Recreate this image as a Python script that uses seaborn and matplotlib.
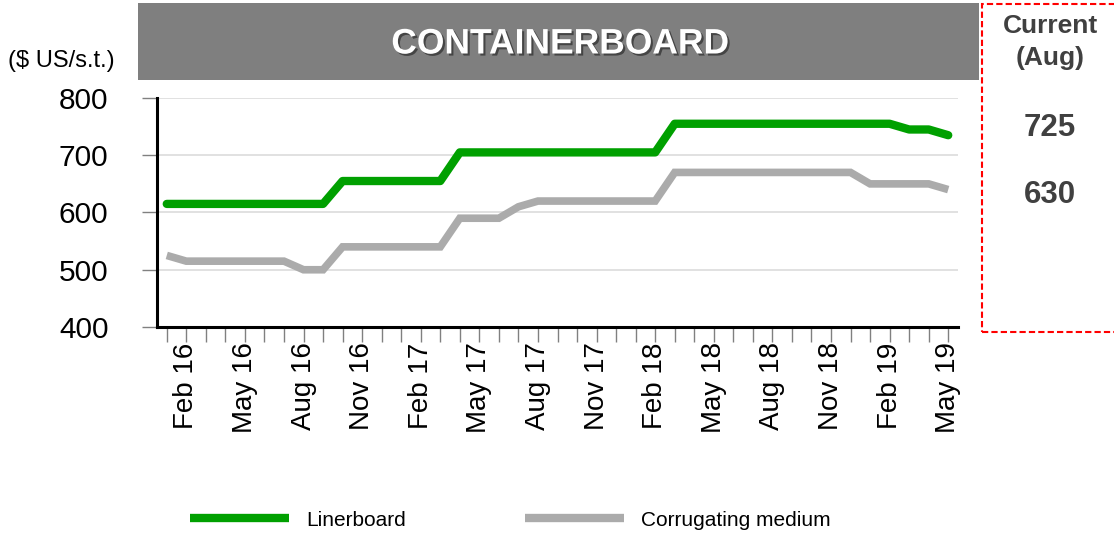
import pandas as pd
import seaborn as sns
import matplotlib.pyplot as plt
import matplotlib.patches as mpatches
import matplotlib.patheffects as pe
from matplotlib.lines import Line2D

# monthly prices, Jan 16 .. May 19 ($ US/s.t.)
linerboard = [615] * 9 + [655] * 6 + [705] * 11 + [755] * 12 + [745, 745, 735]
medium = ([525] + [515] * 6 + [500] * 2 + [540] * 6 + [590] * 3 + [610]
          + [620] * 7 + [670] * 10 + [650] * 4 + [640])

tick_labels = ["Feb 16", "May 16", "Aug 16", "Nov 16", "Feb 17", "May 17", "Aug 17",
               "Nov 17", "Feb 18", "May 18", "Aug 18", "Nov 18", "Feb 19", "May 19"]
series_names = ["Linerboard", "Corrugating medium"]
current_values = ["725", "630"]

GREEN = "#00A000"
GREY = "#ABABAB"

df = pd.DataFrame({"month": range(len(linerboard)),
                   "Linerboard": linerboard,
                   "Corrugating medium": medium})

sns.set_style("white", {"xtick.bottom": True, "ytick.left": True})
plt.rcParams["font.family"] = ["Liberation Sans", "DejaVu Sans"]
plt.rcParams["text.color"] = "black"
plt.rcParams["xtick.labelcolor"] = "black"
plt.rcParams["ytick.labelcolor"] = "black"

W, H = 1114, 536
fig = plt.figure(figsize=(W / 100, H / 100), dpi=100)
ax = fig.add_axes([157 / W, 1 - 327 / H, (958 - 157) / W, (327 - 98) / H])

sns.lineplot(data=df, x="month", y="Corrugating medium", ax=ax, color=GREY,
             linewidth=5.5, solid_capstyle="butt", solid_joinstyle="miter", legend=False)
sns.lineplot(data=df, x="month", y="Linerboard", ax=ax, color=GREEN,
             linewidth=6, solid_capstyle="round", solid_joinstyle="round", legend=False)

ax.set_xlim(-0.5, len(linerboard) - 0.5)
ax.set_ylim(400, 800)
ax.set_yticks([400, 500, 600, 700, 800])
ax.set_xticks(range(len(linerboard)))
labels = [""] * len(linerboard)
for i, lab in zip(range(1, len(linerboard), 3), tick_labels):
    labels[i] = lab
ax.set_xticklabels(labels, rotation=90, fontsize=20)
ax.tick_params(axis="y", left=True, labelsize=21.5, length=11, width=1,
               color="#808080", labelcolor="black", pad=24)
ax.tick_params(axis="x", bottom=True, length=11, width=1, color="#808080",
               labelcolor="black", pad=0)
ax.set_xlabel("")
ax.set_ylabel("")
ax.yaxis.grid(True, color="#DCDCDC", linewidth=1.2)
ax.xaxis.grid(False)
ax.set_axisbelow(True)
for side in ["top", "right"]:
    ax.spines[side].set_visible(False)
ax.spines["left"].set_color("black")
ax.spines["left"].set_linewidth(2.2)
ax.spines["bottom"].set_color("black")
ax.spines["bottom"].set_linewidth(2.2)

# title banner
fig.patches.append(mpatches.Rectangle((138 / W, 1 - 80 / H), 841 / W, 77 / H,
                                      transform=fig.transFigure, facecolor="#7F7F7F",
                                      edgecolor="none"))
fig.text(560 / W, 1 - 44 / H, "CONTAINERBOARD", color="white", fontsize=25.5,
         fontweight="bold", ha="center", va="center",
         path_effects=[pe.withSimplePatchShadow(offset=(1.5, -1.5), shadow_rgbFace="black",
                                                alpha=0.45)])
fig.text(8 / W, 1 - 61 / H, "($ US/s.t.)", fontsize=17, ha="left", va="center")

# current values box
fig.patches.append(mpatches.Rectangle((982 / W, 1 - 332 / H), 140 / W, 328 / H,
                                      transform=fig.transFigure, facecolor="none",
                                      edgecolor="#FF0000", linewidth=1.5,
                                      linestyle=(0, (3, 1.5))))
fig.text(1050 / W, 1 - 26 / H, "Current", fontsize=19, fontweight="bold",
         color="#404040", ha="center", va="center")
fig.text(1050 / W, 1 - 58 / H, "(Aug)", fontsize=19, fontweight="bold",
         color="#404040", ha="center", va="center")
for val, ypx in zip(current_values, [128, 195]):
    fig.text(1050 / W, 1 - ypx / H, val, fontsize=22.5, fontweight="bold",
             color="#404040", ha="center", va="center")

handles = [Line2D([], [], color=GREEN, linewidth=6, solid_capstyle="butt"),
           Line2D([], [], color=GREY, linewidth=6, solid_capstyle="butt")]
fig.legend(handles, series_names, loc="center left", bbox_to_anchor=(190 / W, 1 - 520 / H),
           ncol=2, frameon=False, fontsize=15, handlelength=4.75, handletextpad=0.82,
           columnspacing=5.7, borderpad=0, borderaxespad=0, labelcolor="black")

fig.savefig("out.png", dpi=100)
